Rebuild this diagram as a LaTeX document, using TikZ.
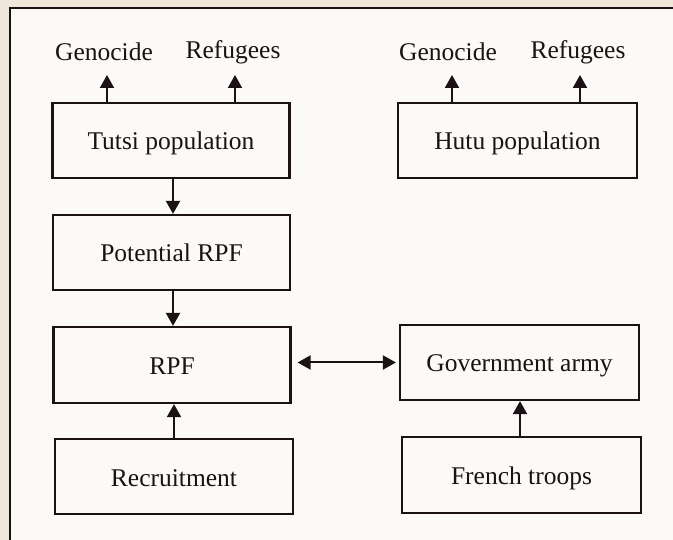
\documentclass[tikz,border=0pt]{standalone}
\usepackage{fontspec}
\setmainfont{Liberation Serif}
\usetikzlibrary{arrows.meta}
\definecolor{paper}{HTML}{EFE7DA}
\definecolor{inner}{HTML}{FBFAF7}
\definecolor{ink}{HTML}{1A1214}
\tikzset{
  box/.style={draw=ink, line width=2.2pt, minimum width=237pt, minimum height=75pt, inner sep=0pt, text height=21pt, text depth=2pt, font=\fontsize{25.5}{30}\selectfont, text=ink},
  lbl/.style={inner sep=0pt, font=\fontsize{25.5}{30}\selectfont, text=ink},
  arr/.style={draw=ink, line width=2pt, -{Triangle[width=14pt,length=13pt]}},
  darr/.style={draw=ink, line width=2pt, {Triangle[width=14pt,length=13pt]}-{Triangle[width=14pt,length=13pt]}}
}
\begin{document}
\begin{tikzpicture}[x=1pt,y=-1pt]
\useasboundingbox (0,0) rectangle (673,540);
\fill[paper] (0,0) rectangle (673,540);
\fill[inner] (10,8) rectangle (673,540);
\draw[ink, line width=1.6pt] (10,540) -- (10,8) -- (673,8);
% boxes
\node[box] (tutsi) at (171,140.5) {Tutsi population};
\node[box, minimum width=239pt] (hutu) at (517.5,140.5) {Hutu population};
\node[box] (pot) at (171.5,252.5) {Potential RPF};
\node[box, minimum height=76pt] (rpf) at (172,365) {RPF};
\node[box, minimum width=238pt] (rec) at (174,476.5) {Recruitment};
\node[box, minimum width=239pt] (gov) at (519.5,362.5) {Government army};
\node[box, minimum width=239pt, minimum height=76pt] (fr) at (521.5,475) {French troops};
% labels
\node[lbl] (g1) at (104,52) {Genocide};
\node[lbl] (r1) at (233,52) {Refugees};
\node[lbl] (g2) at (448,52) {Genocide};
\node[lbl] (r2) at (578,52) {Refugees};
\coordinate (tg1) at (107,75);
\coordinate (tr1) at (235,75);
\coordinate (tg2) at (452,75);
\coordinate (tr2) at (580,75);
% arrows
\draw[arr] (tutsi.north -| tg1) -- (tg1);
\draw[arr] (tutsi.north -| tr1) -- (tr1);
\draw[arr] (hutu.north -| tg2) -- (tg2);
\draw[arr] (hutu.north -| tr2) -- (tr2);
\draw[arr] (tutsi.south) ++(2,0) coordinate (ts) -- (ts |- pot.north);
\draw[arr] (pot.south) ++(1.5,0) coordinate (ps) -- (ps |- rpf.north);
\draw[arr] (rec.north) -- (rec.north |- rpf.south);
\draw[arr] (fr.north) ++(-1.5,0) coordinate (fn) -- (fn |- gov.south);
\draw[darr, shorten <=6pt, shorten >=3pt] (rpf.east |- gov.west) -- (gov.west);
\end{tikzpicture}
\end{document}
